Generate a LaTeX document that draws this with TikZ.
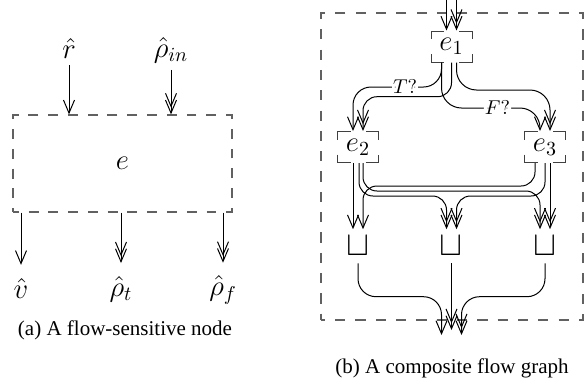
\documentclass[tikz,border=0pt]{standalone}
\usepackage[no-math]{fontspec}
\setmainfont{Liberation Serif}
\usetikzlibrary{arrows.meta}
\begin{document}
\begin{tikzpicture}[
x=0.5pt, y=-0.5pt,
line width=0.5pt,
every node/.style={font=\fontsize{14.4}{17}\selectfont},
dbox/.style={
draw=black!62,
line width=0.65pt
},
ebox/.style={
draw=black!75,
dash pattern=on 10.5pt off 7.5pt,
dash phase=4pt,
minimum width=20.5pt,
minimum height=15.5pt,
inner sep=0pt
},
joinbox/.style={
inner xsep=0pt,
inner ysep=3.5pt,
font=\fontsize{16}{18}\selectfont
},
cond/.style={
fill=white,
inner sep=0.5pt,
font=\fontsize{10}{12}\selectfont
},
capt/.style={font=\fontsize{10.5}{12.5}\selectfont},
arrow/.style={-{Straight Barb[length=6.5pt,width=5.5pt]}},
darrow/.style={-{Straight Barb[length=6.5pt,width=5.5pt,sep=-4pt]Straight Barb[length=6.5pt,width=5.5pt]}}
]
\useasboundingbox (0,0) rectangle (584,381);
\node[dbox, dash pattern=on 4.94pt off 4.94pt, dash phase=2.04pt, minimum width=109.5pt, minimum height=48.5pt] (fsn) at (122.5,163.5) {$e$};
\node (rhat) at (69,48) {$\hat r$};
\node (rhoin) at (171,50) {$\hat\rho_{in}$};
\node (vhat) at (21,288) {$\hat v$};
\node (rhot) at (121,289) {$\hat\rho_t$};
\node (rhof) at (223,290) {$\hat\rho_f$};
\draw[arrow] (rhat) -- (rhat |- fsn.north);
\draw[darrow] (rhoin) -- (rhoin |- fsn.north);
\draw[arrow, shorten >=3pt] (vhat |- fsn.south) -- (vhat);
\draw[darrow, shorten >=3pt] (rhot |- fsn.south) -- (rhot);
\draw[darrow, shorten >=3pt] (rhof |- fsn.south) -- (rhof);
\node[capt] (capa) at (125,330) {(a) A flow-sensitive node};

\node[dbox, dash pattern=on 5.08pt off 5.08pt, dash phase=3.1pt, minimum width=131pt, minimum height=153.5pt] (cfg) at (452,166.5) {};
\node[ebox] (e1) at (451.5,46.5) {$e_1$};
\node[ebox] (e2) at (358,147) {$e_2$};
\node[ebox] (e3) at (545,147) {$e_3$};
\node[joinbox] (j1) at (358,246.3) {$\sqcup$};
\node[joinbox] (j2) at (451.5,246.3) {$\sqcup$};
\node[joinbox] (j3) at (545,246.3) {$\sqcup$};
\coordinate (rin) at (446.5,-2);
\coordinate (rhoin1) at (456.5,-2);
\coordinate (vout) at (441.5,335);
\coordinate (rtout) at (451.5,330);
\coordinate (rfout) at (461.5,335);
\draw[arrow] (rin) -- ([xshift=-2.5pt]e1.north);
\draw[darrow] (rhoin1) -- ([xshift=2.5pt]e1.north);
\draw[arrow, rounded corners=9pt] ([xshift=-5pt]e1.south) |- (405,87) node[cond] {$T?$} -| ([xshift=-2.5pt]e2.north);
\draw[darrow, rounded corners=7pt] (e1.south) |- (400,96.7) -| ([xshift=2.5pt]e2.north);
\draw[arrow, rounded corners=10pt] ([xshift=-5pt]e1.south) |- (497.5,108) node[cond] {$F?$} -| ([xshift=-2.5pt]e3.north);
\draw[darrow, rounded corners=10pt] ([xshift=2.5pt]e1.south) |- (500,90) -| ([xshift=2.5pt]e3.north);
\draw[arrow] ([xshift=-2.5pt]e2.south) -- ([xshift=-2.5pt]j1.north);
\draw[darrow, rounded corners=7pt] ([xshift=.5pt]e2.south) |- (420,196) -| ([xshift=-2.5pt]j2.north);
\draw[darrow, rounded corners=7pt] ([xshift=2.5pt]e2.south) |- (450,191) -| ([xshift=-2.5pt]j3.north);
\draw[arrow, rounded corners=7pt] ([xshift=-5pt]e3.south) |- (450,186) -| ([xshift=2.5pt]j1.north);
\draw[darrow, rounded corners=7pt] (e3.south) |- (490,196) -| ([xshift=2.5pt]j2.north);
\draw[darrow] ([xshift=2.5pt]e3.south) -- ([xshift=2.5pt]j3.north);
\draw[arrow, rounded corners=9pt] (j1.south) |- (400,296.7) -| (vout);
\draw[darrow] (j2.south) -- (rtout);
\draw[darrow, rounded corners=9pt] (j3.south) |- (500,296.7) -| (rfout);
\node[capt] (capb) at (452,368) {(b) A composite flow graph};
\end{tikzpicture}
\end{document}
